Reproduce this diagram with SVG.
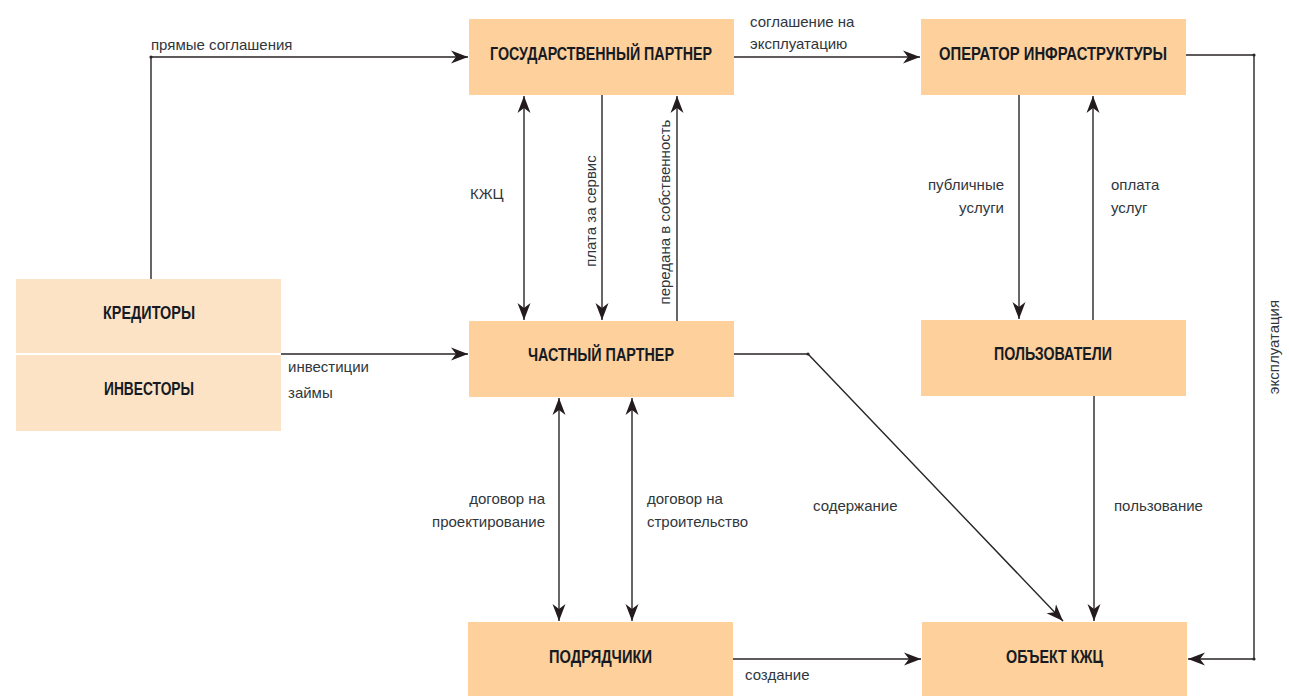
<svg xmlns="http://www.w3.org/2000/svg" width="1289" height="696" viewBox="0 0 1289 696">
<style>
.node{fill:#fdd09c}
.light{fill:#fde3c6}
.nt{font-family:"Liberation Sans Narrow","Liberation Sans",sans-serif;font-weight:bold;font-size:18px;fill:#161a22;text-anchor:middle}
.lbl{font-family:"Liberation Sans Narrow","Liberation Sans",sans-serif;font-size:15px;fill:#2f363c}
.ln{fill:none;stroke:#2a2526;stroke-width:1.4}
.a{marker-end:url(#ah)}
.b{marker-end:url(#ah);marker-start:url(#ah)}
.dot{fill:#2a2526}
</style>
<defs>
<marker id="ah" markerUnits="userSpaceOnUse" markerWidth="18" markerHeight="14" viewBox="0 0 18 14" refX="17" refY="7" orient="auto-start-reverse">
<path d="M0,0.5 L17,7 L0,13.5 L5,7 Z" fill="#231b1e"/>
</marker>
</defs>

<g id="connectors">
<polyline class="ln a" points="151,279 151,57 468,57"/>
<circle class="dot" cx="151" cy="57" r="1.6"/>
<line class="ln a" x1="734" y1="57" x2="920" y2="57"/>
<polyline class="ln a" points="1186,55 1254,55 1254,659 1188,659"/>
<circle class="dot" cx="1254" cy="55" r="1.6"/>
<circle class="dot" cx="1254" cy="659" r="1.6"/>
<line class="ln b" x1="524" y1="96" x2="524" y2="320"/>
<line class="ln a" x1="602" y1="95" x2="602" y2="320"/>
<line class="ln a" x1="677" y1="321" x2="677" y2="96"/>
<line class="ln a" x1="1019" y1="95" x2="1019" y2="319"/>
<line class="ln a" x1="1093" y1="320" x2="1093" y2="96"/>
<line class="ln a" x1="281" y1="354" x2="468" y2="354"/>
<polyline class="ln a" points="734,354 808,354 1063,621"/>
<circle class="dot" cx="808" cy="354" r="1.6"/>
<line class="ln a" x1="1094" y1="396" x2="1094" y2="621"/>
<line class="ln b" x1="559" y1="398" x2="559" y2="621"/>
<line class="ln b" x1="632" y1="398" x2="632" y2="621"/>
<line class="ln a" x1="733" y1="659" x2="921" y2="659"/>

<text class="lbl" x="151" y="50">прямые соглашения</text>
<text class="lbl" x="750" y="27">соглашение на</text>
<text class="lbl" x="750" y="49">эксплуатацию</text>
<text class="lbl" x="1279" y="347" text-anchor="middle" transform="rotate(-90 1279 347)">эксплуатация</text>
<text class="lbl" x="470" y="199">КЖЦ</text>
<text class="lbl" x="596" y="211" text-anchor="middle" transform="rotate(-90 596 211)">плата за сервис</text>
<text class="lbl" x="670" y="212" text-anchor="middle" transform="rotate(-90 670 212)">передана в собственность</text>
<text class="lbl" x="1004" y="190" text-anchor="end">публичные</text>
<text class="lbl" x="1004" y="213" text-anchor="end">услуги</text>
<text class="lbl" x="1111" y="190">оплата</text>
<text class="lbl" x="1111" y="213">услуг</text>
<text class="lbl" x="288" y="372">инвестиции</text>
<text class="lbl" x="288" y="398">займы</text>
<text class="lbl" x="813" y="511">содержание</text>
<text class="lbl" x="1114" y="511">пользование</text>
<text class="lbl" x="545" y="504" text-anchor="end">договор на</text>
<text class="lbl" x="545" y="527" text-anchor="end">проектирование</text>
<text class="lbl" x="647" y="504">договор на</text>
<text class="lbl" x="647" y="527">строительство</text>
<text class="lbl" x="745" y="680">создание</text>
</g>

<g id="node-gos">
<rect class="node" x="469" y="19" width="265" height="76"/>
<text class="nt" x="601" y="60" textLength="222" lengthAdjust="spacingAndGlyphs">ГОСУДАРСТВЕННЫЙ ПАРТНЕР</text>
</g>
<g id="node-operator">
<rect class="node" x="921" y="19" width="265" height="76"/>
<text class="nt" x="1053" y="60" textLength="228" lengthAdjust="spacingAndGlyphs">ОПЕРАТОР ИНФРАСТРУКТУРЫ</text>
</g>
<g id="node-kreditory">
<rect class="light" x="16" y="279" width="265" height="74"/>
<text class="nt" x="149" y="319" textLength="92" lengthAdjust="spacingAndGlyphs">КРЕДИТОРЫ</text>
</g>
<g id="node-investory">
<rect class="light" x="16" y="355" width="265" height="76"/>
<text class="nt" x="149" y="395" textLength="90" lengthAdjust="spacingAndGlyphs">ИНВЕСТОРЫ</text>
</g>
<g id="node-chastny">
<rect class="node" x="469" y="321" width="265" height="76"/>
<text class="nt" x="601" y="361" textLength="146" lengthAdjust="spacingAndGlyphs">ЧАСТНЫЙ ПАРТНЕР</text>
</g>
<g id="node-polzovateli">
<rect class="node" x="921" y="320" width="265" height="76"/>
<text class="nt" x="1053" y="360" textLength="118" lengthAdjust="spacingAndGlyphs">ПОЛЬЗОВАТЕЛИ</text>
</g>
<g id="node-podryadchiki">
<rect class="node" x="468" y="622" width="265" height="74"/>
<text class="nt" x="600.5" y="663" textLength="103" lengthAdjust="spacingAndGlyphs">ПОДРЯДЧИКИ</text>
</g>
<g id="node-obekt">
<rect class="node" x="922" y="622" width="265" height="74"/>
<text class="nt" x="1054.5" y="663" textLength="97" lengthAdjust="spacingAndGlyphs">ОБЪЕКТ КЖЦ</text>
</g>
</svg>
